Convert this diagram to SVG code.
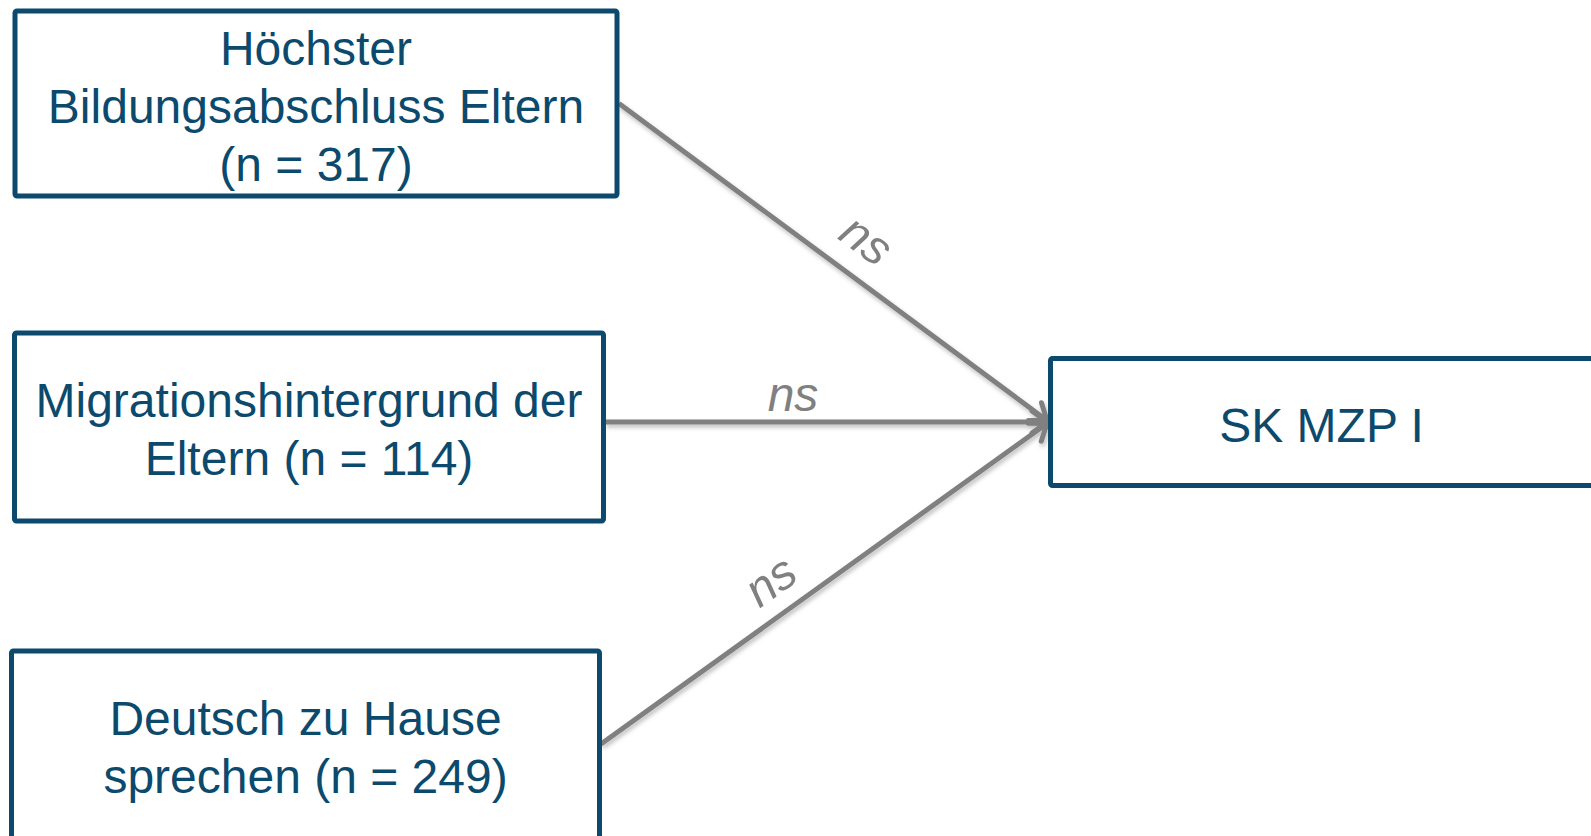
<svg xmlns="http://www.w3.org/2000/svg" width="1591" height="836" viewBox="0 0 1591 836">
  <style>
    .box { fill: #ffffff; stroke: #0b4a6d; stroke-width: 5; }
    .lbl { font-family: "Liberation Sans", Arial, sans-serif; font-size: 48px; fill: #0b4a6d; text-anchor: middle; }
    .edge { stroke: #808080; stroke-width: 5; fill: none; marker-end: url(#arr); }
    .ns { font-family: "Liberation Sans", Arial, sans-serif; font-size: 48px; font-style: italic; fill: #808080; text-anchor: middle; }
  </style>
  <defs>
    <marker id="arr" markerUnits="userSpaceOnUse" markerWidth="30" markerHeight="30" viewBox="-20 -15 24 30" refX="0" refY="0" orient="auto">
      <path d="M -15 -11 L 0 0 L -15 11" fill="none" stroke="#808080" stroke-width="5" stroke-linecap="round" stroke-linejoin="round"/>
    </marker>
    <filter id="sh" x="-10%" y="-10%" width="120%" height="130%">
      <feDropShadow dx="1.5" dy="3" stdDeviation="2" flood-color="#000000" flood-opacity="0.25"/>
    </filter>
  </defs>
  <rect width="1591" height="836" fill="#ffffff"/>

  <g id="connectors" filter="url(#sh)">
    <line class="edge" x1="619" y1="103.5" x2="1047" y2="420.5"/>
    <line class="edge" x1="605" y1="422" x2="1047" y2="422"/>
    <line class="edge" x1="601" y1="744" x2="1047" y2="423.5"/>
  </g>

  <g id="edge-labels">
    <text class="ns" transform="translate(857 253) rotate(36.4)">ns</text>
    <text class="ns" x="793" y="411">ns</text>
    <text class="ns" transform="translate(780 594) rotate(-35.7)">ns</text>
  </g>

  <g id="node-bildung">
    <rect class="box" x="15" y="11" width="602" height="185" rx="2"/>
    <text class="lbl" x="316" y="65">Höchster</text>
    <text class="lbl" x="316" y="123">Bildungsabschluss Eltern</text>
    <text class="lbl" x="316" y="181">(n = 317)</text>
  </g>

  <g id="node-migration">
    <rect class="box" x="14.5" y="333" width="589" height="188" rx="2"/>
    <text class="lbl" x="309" y="417">Migrationshintergrund der</text>
    <text class="lbl" x="309" y="475">Eltern (n = 114)</text>
  </g>

  <g id="node-deutsch">
    <rect class="box" x="11.5" y="651" width="588" height="200" rx="2"/>
    <text class="lbl" x="305.5" y="735">Deutsch zu Hause</text>
    <text class="lbl" x="305.5" y="793">sprechen (n = 249)</text>
  </g>

  <g id="node-skmzp">
    <rect class="box" x="1050.5" y="358.5" width="600" height="127" rx="2"/>
    <text class="lbl" x="1321.5" y="442">SK MZP I</text>
  </g>
</svg>
